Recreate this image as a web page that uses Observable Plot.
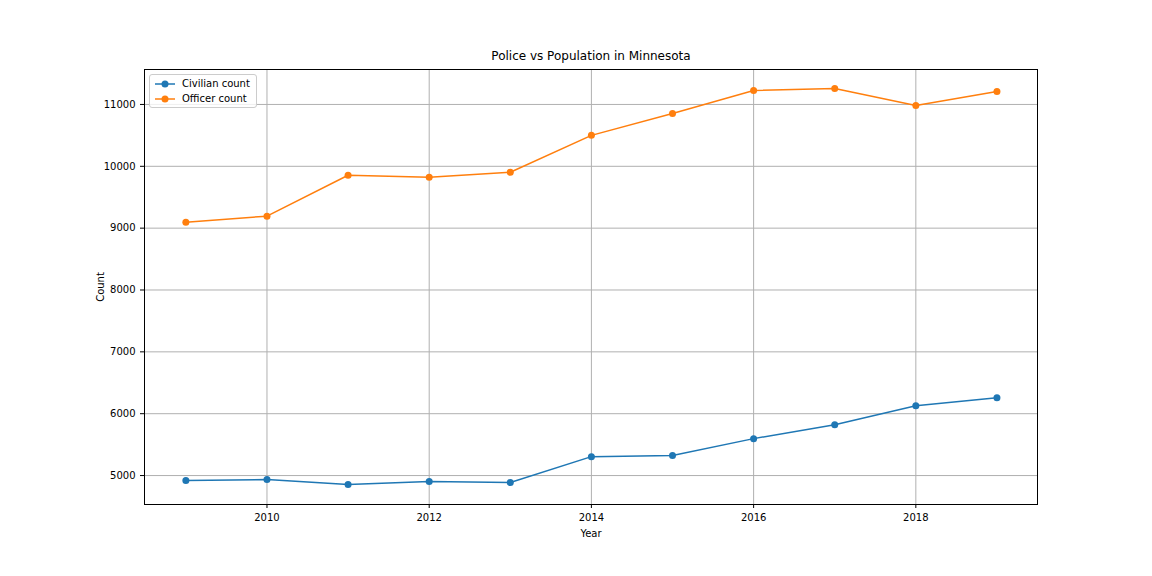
<!DOCTYPE html>
<html>
<head>
<meta charset="utf-8">
<script src="https://cdn.jsdelivr.net/npm/d3@7"></script>
<script src="https://cdn.jsdelivr.net/npm/@observablehq/plot@0.6"></script>
<style>
  body { margin: 0; background: #fff; font-family: "DejaVu Sans", sans-serif; }
  #wrap { position: relative; width: 1152px; height: 576px; }
  #legend { position: absolute; left: 149px; top: 74px; background: rgba(255,255,255,0.8);
    border: 1px solid #ccc; border-radius: 3px; padding: 1px 6px 1px 4px; font-size: 10px; }
  #legend div { display: flex; align-items: center; height: 15px; }
  #legend svg { margin-right: 6px; }
</style>
</head>
<body>
<div id="wrap"><div id="chart"></div>
<div id="legend"></div></div>
<script>
const years = [2009, 2010, 2011, 2012, 2013, 2014, 2015, 2016, 2017, 2018, 2019];
const civilian = [4919, 4935, 4855, 4903, 4887, 5306, 5323, 5597, 5823, 6129, 6258];
const officer = [9097, 9194, 9855, 9823, 9903, 10500, 10855, 11226, 11258, 10984, 11210];
const series = ["Civilian count", "Officer count"];
const colors = ["#1f77b4", "#ff7f0e"];

const data = [];
years.forEach((y, i) => {
  data.push({year: y, value: civilian[i], s: series[0]});
  data.push({year: y, value: officer[i], s: series[1]});
});

const chart = Plot.plot({
  width: 1152, height: 576,
  marginLeft: 144, marginRight: 115, marginTop: 69, marginBottom: 72,
  style: {fontFamily: "DejaVu Sans", fontSize: "10px", color: "#000"},
  x: {domain: [2008.49, 2019.5], ticks: [2010, 2012, 2014, 2016, 2018], tickFormat: d => String(d),
      label: "Year", labelAnchor: "center", labelArrow: "none", labelOffset: 32, tickSize: 4},
  y: {domain: [4532, 11565], ticks: [5000, 6000, 7000, 8000, 9000, 10000, 11000], tickFormat: d => String(d),
      label: "Count", labelAnchor: "center", labelArrow: "none", labelOffset: 48, tickSize: 4},
  color: {domain: series, range: colors},
  marks: [
    Plot.gridX([2010, 2012, 2014, 2016, 2018], {stroke: "#b0b0b0", strokeOpacity: 1}),
    Plot.gridY([5000, 6000, 7000, 8000, 9000, 10000, 11000], {stroke: "#b0b0b0", strokeOpacity: 1}),
    Plot.frame({stroke: "#000"}),
    Plot.line(data, {x: "year", y: "value", z: "s", stroke: "s", strokeWidth: 1.5}),
    Plot.dot(data, {x: "year", y: "value", fill: "s", r: 3.5}),
    Plot.text(["Police vs Population in Minnesota"], {frameAnchor: "top", dy: -10, lineAnchor: "bottom", fontSize: 12})
  ]
});
d3.select("#chart").append(() => chart);

const lg = d3.select("#legend");
series.forEach((s, i) => {
  const row = lg.append("div");
  const sv = row.append("svg").attr("width", 22).attr("height", 10);
  sv.append("line").attr("x1", 1).attr("x2", 21).attr("y1", 5).attr("y2", 5).attr("stroke", colors[i]).attr("stroke-width", 1.5);
  sv.append("circle").attr("cx", 11).attr("cy", 5).attr("r", 3.5).attr("fill", colors[i]);
  row.append("span").text(s);
});
</script>
</body>
</html>
